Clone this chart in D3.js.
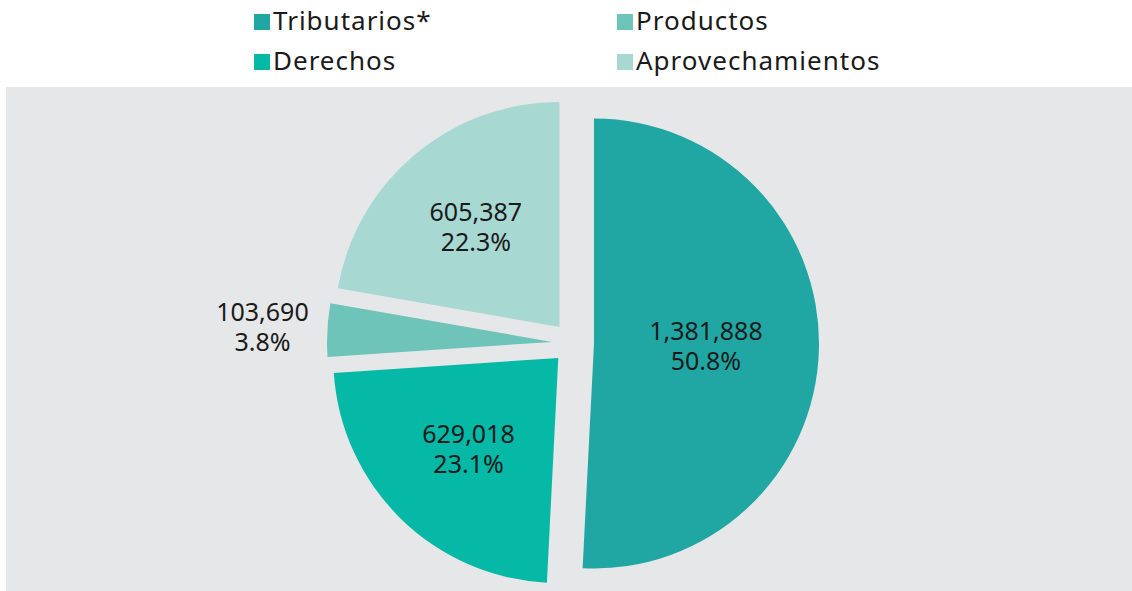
<!DOCTYPE html>
<html><head><meta charset="utf-8">
<script src="https://cdn.jsdelivr.net/npm/d3@7"></script>
<style>body{margin:0;background:#fff;}svg{display:block;font-family:"Noto Sans",sans-serif;}</style>
</head><body>
<svg id="c" width="1132" height="591"></svg>
<script>
const categories = ["Tributarios*", "Derechos", "Productos", "Aprovechamientos"];
const values = [1381888, 629018, 103690, 605387];
const percents = ["50.8%", "23.1%", "3.8%", "22.3%"];
const colors = ["#21a7a3", "#06b8a6", "#6ec4b9", "#a8d8d2"];
const legendOrder = ["Tributarios*", "Productos", "Derechos", "Aprovechamientos"];

const svg = d3.select("#c");
svg.append("rect").attr("x", 6).attr("y", 87).attr("width", 1126).attr("height", 504).attr("fill", "#e6e7e8");

const cx = 573, cy = 343, r = 225, explode = 21;
const pie = d3.pie().sort(null).value(d => d)(values);
const arc = d3.arc().innerRadius(0).outerRadius(r);
const fmt = d3.format(",");
const g = svg.append("g").attr("transform", `translate(${cx},${cy})`);
const labelDist = [112, 128, 290, 130];

pie.forEach((p, i) => {
  const mid = (p.startAngle + p.endAngle) / 2;
  const ox = explode * Math.sin(mid), oy = -explode * Math.cos(mid);
  g.append("path").attr("d", arc(p)).attr("fill", colors[i])
    .attr("transform", `translate(${ox},${oy})`);
  const lx = ox + labelDist[i] * Math.sin(mid), ly = oy - labelDist[i] * Math.cos(mid);
  g.append("text").attr("text-anchor", "middle").attr("font-size", 25).attr("fill", "#1a1a1a")
    .attr("x", lx).attr("y", ly - 6).text(fmt(values[i]));
  g.append("text").attr("text-anchor", "middle").attr("font-size", 25).attr("fill", "#1a1a1a")
    .attr("x", lx).attr("y", ly + 24).text(percents[i]);
});

const lg = svg.append("g");
legendOrder.forEach((name, k) => {
  const i = categories.indexOf(name);
  const col = k % 2, row = Math.floor(k / 2);
  const x = col === 0 ? 254 : 617, y = 30 + row * 40;
  lg.append("rect").attr("x", x).attr("y", y - 16).attr("width", 16).attr("height", 16).attr("fill", colors[i]);
  lg.append("text").attr("x", x + 19).attr("y", y).attr("font-size", 26).attr("letter-spacing", 1)
    .attr("fill", "#1a1a1a").text(name);
});
</script>
</body></html>
